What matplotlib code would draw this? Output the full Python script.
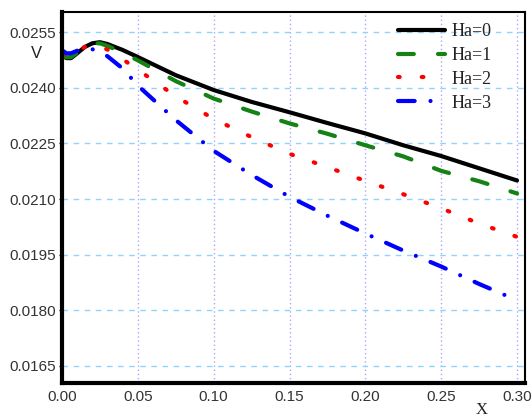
import matplotlib
matplotlib.use("Agg")
import matplotlib.pyplot as plt

# velocity profiles along x for several Hartmann numbers
x = [0.0, 0.003, 0.006, 0.01, 0.015, 0.02, 0.025, 0.03, 0.04, 0.05,
     0.075, 0.10, 0.125, 0.15, 0.175, 0.20, 0.225, 0.25, 0.275, 0.30]

v_ha0 = [0.02487, 0.02480, 0.02480, 0.02493, 0.02510, 0.02520, 0.02523, 0.02518, 0.02502, 0.02483,
         0.02434, 0.02394, 0.02362, 0.02334, 0.02305, 0.02277, 0.02245, 0.02216, 0.02183, 0.02150]
v_ha1 = [0.02487, 0.02482, 0.02483, 0.02495, 0.02510, 0.02519, 0.02520, 0.02513, 0.02495, 0.02474,
         0.02418, 0.02371, 0.02336, 0.02304, 0.02276, 0.02245, 0.02215, 0.02176, 0.02148, 0.02115]
v_ha2 = [0.02490, 0.02486, 0.02488, 0.02498, 0.02510, 0.02514, 0.02512, 0.02503, 0.02477, 0.02449,
         0.02377, 0.02316, 0.02267, 0.02222, 0.02186, 0.02149, 0.02113, 0.02075, 0.02034, 0.01998]
v_ha3 = [0.02501, 0.02493, 0.02493, 0.02500, 0.02506, 0.02504, 0.02497, 0.02485, 0.02452, 0.02406,
         0.02313, 0.02230, 0.02165, 0.02106, 0.02055, 0.02007, 0.01961, 0.01918, 0.01871, 0.01827]

labels = ["Ha=0", "Ha=1", "Ha=2", "Ha=3"]
xticks = [0.00, 0.05, 0.10, 0.15, 0.20, 0.25, 0.30]
yticks = [0.0165, 0.0180, 0.0195, 0.0210, 0.0225, 0.0240, 0.0255]

fig = plt.figure(figsize=(5.32, 4.19), dpi=100)
ax = fig.add_axes([0.1165, 0.086, 0.8705, 0.885])

lw = 3.0
ax.plot(x, v_ha0, color="black", lw=lw, label=labels[0], solid_capstyle="round")
ax.plot(x, v_ha1, color="#148214", lw=lw, label=labels[1],
        dashes=(3.8, 5.8), dash_capstyle="round")
ax.plot(x, v_ha2, color="#ff0000", lw=lw, label=labels[2],
        dashes=(0.4, 5.3), dash_capstyle="round")
ax.plot(x, v_ha3, color="#0000ff", lw=lw, label=labels[3],
        dashes=(4.0, 3.8, 0.01, 3.8), dash_capstyle="round")

ax.set_xlim(0, 0.3053)
ax.set_ylim(0.01604, 0.02604)
ax.set_xticks(xticks)
ax.set_xticklabels(["%.2f" % t for t in xticks])
ax.set_yticks(yticks)
ax.set_yticklabels(["%.4f" % t for t in yticks])
ax.tick_params(direction="out", length=2.5, width=1, labelsize=11, pad=2)
ax.tick_params(axis="x", length=0, pad=5)
for lab in ax.get_xticklabels() + ax.get_yticklabels():
    lab.set_family(["Liberation Sans", "DejaVu Sans"])
    lab.set_color("#333333")

# grid: dashed horizontal, dotted vertical
ax.yaxis.grid(True, linestyle=(0, (4, 4)), color="#8fd3ff", lw=1)
ax.xaxis.grid(True, linestyle=(0, (1, 2)), color="#a8a8ff", lw=1)
ax.set_axisbelow(True)

ax.spines["left"].set_linewidth(3.0)
ax.spines["bottom"].set_linewidth(3.0)
ax.spines["top"].set_linewidth(1.5)
ax.spines["right"].set_linewidth(1.5)

fig.text(36 / 532, 1 - 53 / 419, "V", ha="center", va="center", fontsize=12,
         family=["Liberation Sans", "DejaVu Sans"], color="#222222")
fig.text(482 / 532, 1 - 410 / 419, "X", ha="center", va="center", fontsize=12,
         family=["Liberation Serif", "DejaVu Serif"], color="#222222")

leg = ax.legend(loc="upper left", bbox_to_anchor=(398 / 532, 1 - 23 / 419),
                bbox_transform=fig.transFigure, frameon=False,
                handlelength=2.6, handletextpad=0.35, labelspacing=0.38,
                borderaxespad=0, borderpad=0,
                prop={"family": "Liberation Serif", "size": 13})
for t in leg.get_texts():
    t.set_color("#222222")

fig.savefig("out.png", dpi=100)
